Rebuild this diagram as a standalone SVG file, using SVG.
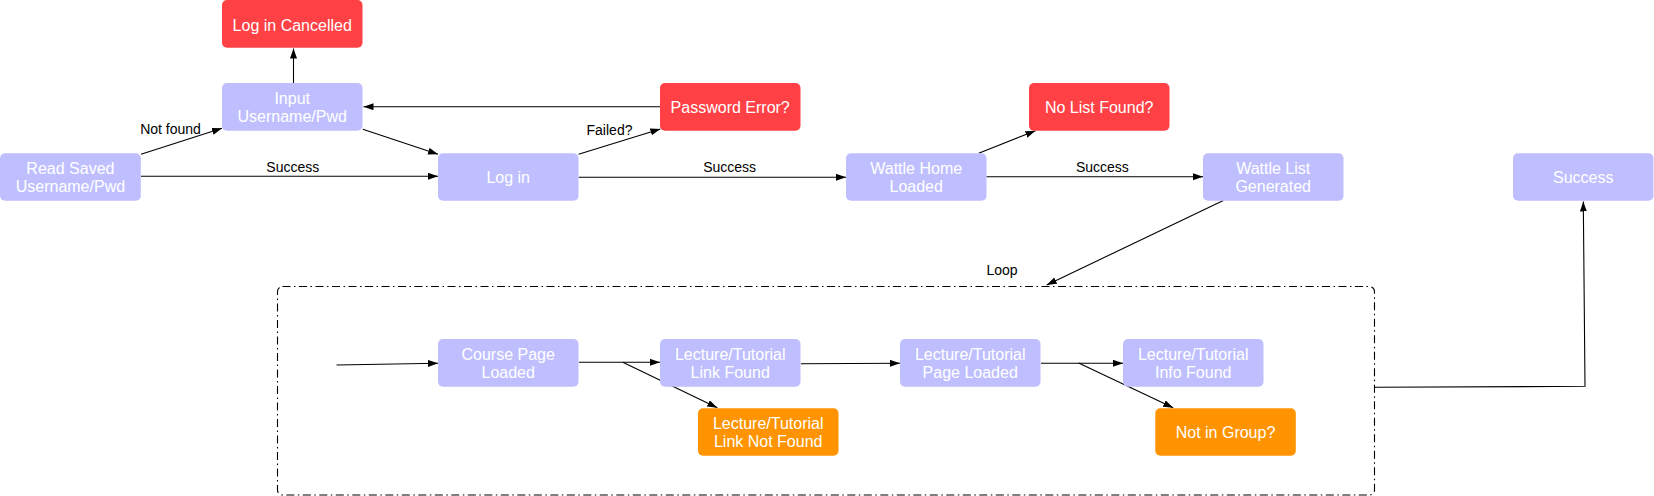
<svg xmlns="http://www.w3.org/2000/svg" width="1654" height="496" viewBox="0 0 1654 496">
<defs>
<marker id="arr" markerWidth="11" markerHeight="8" refX="10" refY="3.5" orient="auto" markerUnits="userSpaceOnUse">
<path d="M0,0 L10,3.5 L0,7 z" fill="#000"/>
</marker>
<style>
.n rect{fill:#BFBFFF;}
.r rect{fill:#FF4146;}
.o rect{fill:#FF9400;}
.nt{font-family:"Liberation Sans",Arial,sans-serif;font-size:16px;fill:#fff;text-anchor:middle;}
.lbl{font-family:"Liberation Sans",Arial,sans-serif;font-size:14px;fill:#000;text-anchor:middle;}
.e{fill:none;stroke:#000;stroke-width:1.1;marker-end:url(#arr);}
.p{fill:none;stroke:#000;stroke-width:1.1;}
</style>
</defs>
<rect fill="#fff" width="1654" height="496"/>

<g id="container">
<rect x="277.5" y="286.5" width="1097" height="208.5" rx="5" fill="none" stroke="#000" stroke-width="1.1" stroke-dasharray="8 3.5 1.5 3.5"/>
</g>

<g id="connectors">
<path class="e" d="M293.5,83 L293.5,48.5"/>
<path class="e" d="M660,106.7 L363.5,106.7"/>
<path class="e" d="M141,154.3 L222,128.3"/>
<text class="lbl" x="170.5" y="134">Not found</text>
<path class="e" d="M362.8,129.3 L438,154.3"/>
<path class="e" d="M141,176.3 L438,176.3"/>
<text class="lbl" x="292.8" y="171.5">Success</text>
<path class="e" d="M578.6,154.3 L660.4,129"/>
<text class="lbl" x="609.5" y="134.5">Failed?</text>
<path class="e" d="M578.6,177.3 L846,177.3"/>
<text class="lbl" x="729.6" y="172">Success</text>
<path class="e" d="M978.7,153.3 L1035.4,130.7"/>
<path class="e" d="M986.3,176.7 L1203,176.7"/>
<text class="lbl" x="1102.4" y="172">Success</text>
<path class="e" d="M1223.3,200.5 L1046.7,285"/>
<text class="lbl" x="1002" y="275">Loop</text>
<path class="e" d="M1374.3,387.3 L1585,386.3 L1583.3,201.5"/>
<path class="e" d="M336.5,365 L438,363.3"/>
<path class="e" d="M578.8,362.3 L660,362.3"/>
<path class="e" d="M622.8,362.3 L717.3,407.8"/>
<path class="e" d="M800.8,363.7 L900,363.3"/>
<path class="e" d="M1041,363.3 L1123,363.3"/>
<path class="e" d="M1078.6,363 L1173.2,407.8"/>
</g>

<g id="log-in-cancelled" class="r">
<rect x="222" y="0" width="140.5" height="47.7" rx="5"/>
<text class="nt" x="292.2" y="30.5">Log in Cancelled</text>
</g>
<g id="input-username" class="n">
<rect x="222" y="83" width="140.5" height="47.7" rx="5"/>
<text class="nt" x="292.2" y="103.7">Input</text>
<text class="nt" x="292.2" y="121.7">Username/Pwd</text>
</g>
<g id="password-error" class="r">
<rect x="660" y="83" width="140.5" height="47.7" rx="5"/>
<text class="nt" x="730.2" y="112.7">Password Error?</text>
</g>
<g id="no-list-found" class="r">
<rect x="1029" y="83" width="140.5" height="47.7" rx="5"/>
<text class="nt" x="1099.2" y="112.7">No List Found?</text>
</g>
<g id="read-saved" class="n">
<rect x="0" y="153.3" width="140.8" height="47.5" rx="5"/>
<text class="nt" x="70.4" y="173.8">Read Saved</text>
<text class="nt" x="70.4" y="191.8">Username/Pwd</text>
</g>
<g id="log-in" class="n">
<rect x="438" y="153.3" width="140.5" height="47.5" rx="5"/>
<text class="nt" x="508.2" y="182.8">Log in</text>
</g>
<g id="wattle-home" class="n">
<rect x="846" y="153.3" width="140.5" height="47.5" rx="5"/>
<text class="nt" x="916.2" y="173.8">Wattle Home</text>
<text class="nt" x="916.2" y="191.8">Loaded</text>
</g>
<g id="wattle-list" class="n">
<rect x="1203" y="153.3" width="140.5" height="47.5" rx="5"/>
<text class="nt" x="1273.2" y="173.8">Wattle List</text>
<text class="nt" x="1273.2" y="191.8">Generated</text>
</g>
<g id="success" class="n">
<rect x="1513" y="153.3" width="140.5" height="47.5" rx="5"/>
<text class="nt" x="1583.2" y="182.8">Success</text>
</g>
<g id="course-page" class="n">
<rect x="438" y="339" width="140.5" height="47.7" rx="5"/>
<text class="nt" x="508.2" y="359.7">Course Page</text>
<text class="nt" x="508.2" y="377.7">Loaded</text>
</g>
<g id="lt-link-found" class="n">
<rect x="660" y="339" width="140.5" height="47.7" rx="5"/>
<text class="nt" x="730.2" y="359.7">Lecture/Tutorial</text>
<text class="nt" x="730.2" y="377.7">Link Found</text>
</g>
<g id="lt-page-loaded" class="n">
<rect x="900" y="339" width="140.5" height="47.7" rx="5"/>
<text class="nt" x="970.2" y="359.7">Lecture/Tutorial</text>
<text class="nt" x="970.2" y="377.7">Page Loaded</text>
</g>
<g id="lt-info-found" class="n">
<rect x="1123" y="339" width="140.5" height="47.7" rx="5"/>
<text class="nt" x="1193.2" y="359.7">Lecture/Tutorial</text>
<text class="nt" x="1193.2" y="377.7">Info Found</text>
</g>
<g id="lt-link-not-found" class="o">
<rect x="698" y="408.3" width="140.5" height="47.5" rx="5"/>
<text class="nt" x="768.2" y="428.8">Lecture/Tutorial</text>
<text class="nt" x="768.2" y="446.8">Link Not Found</text>
</g>
<g id="not-in-group" class="o">
<rect x="1155.3" y="408.3" width="140.5" height="47.5" rx="5"/>
<text class="nt" x="1225.5" y="437.8">Not in Group?</text>
</g>
</svg>
